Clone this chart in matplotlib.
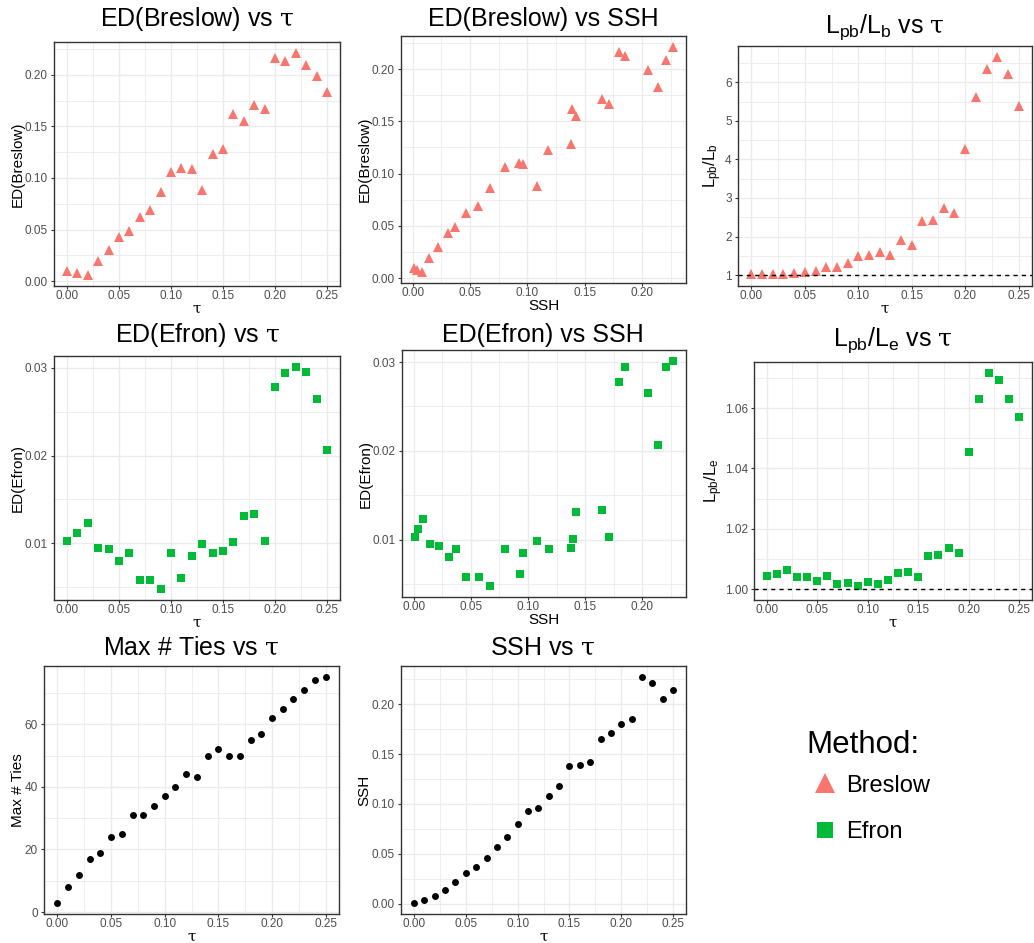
import numpy as np
import matplotlib
matplotlib.use("Agg")
import matplotlib.pyplot as plt
from matplotlib.ticker import MultipleLocator, FormatStrFormatter
from matplotlib.lines import Line2D

plt.rcParams['font.family'] = ['Liberation Sans', 'DejaVu Sans']
plt.rcParams['mathtext.fontset'] = 'custom'
plt.rcParams['mathtext.rm'] = 'Liberation Sans'
plt.rcParams['mathtext.it'] = 'DejaVu Serif'

# ---- data ----
tau = [0.00, 0.01, 0.02, 0.03, 0.04, 0.05, 0.06, 0.07, 0.08, 0.09, 0.10, 0.11, 0.12,
       0.13, 0.14, 0.15, 0.16, 0.17, 0.18, 0.19, 0.20, 0.21, 0.22, 0.23, 0.24, 0.25]

ed_breslow = [0.010, 0.008, 0.006, 0.019, 0.030, 0.043, 0.049, 0.062, 0.069, 0.086,
              0.106, 0.110, 0.109, 0.088, 0.123, 0.128, 0.162, 0.155, 0.171, 0.167,
              0.216, 0.213, 0.221, 0.209, 0.199, 0.183]

ed_efron = [0.0103, 0.0112, 0.0123, 0.0095, 0.0093, 0.0080, 0.0089, 0.0058, 0.0058, 0.0048,
            0.0089, 0.0061, 0.0085, 0.0099, 0.0089, 0.0091, 0.0101, 0.0131, 0.0133, 0.0103,
            0.0278, 0.0294, 0.0301, 0.0295, 0.0265, 0.0207]

ssh = [0.001, 0.004, 0.008, 0.014, 0.022, 0.031, 0.037, 0.046, 0.057, 0.067,
       0.080, 0.093, 0.096, 0.108, 0.118, 0.138, 0.139, 0.142, 0.165, 0.171,
       0.180, 0.185, 0.227, 0.221, 0.205, 0.214]

lpb_lb = [1.03, 1.03, 1.03, 1.04, 1.06, 1.09, 1.11, 1.20, 1.22, 1.32,
          1.49, 1.52, 1.59, 1.52, 1.91, 1.78, 2.41, 2.44, 2.75, 2.60,
          4.26, 5.63, 6.35, 6.66, 6.21, 5.38]

lpb_le = [1.0044, 1.0050, 1.0064, 1.0041, 1.0041, 1.0026, 1.0044, 1.0017, 1.0020, 1.0010,
          1.0023, 1.0017, 1.0031, 1.0053, 1.0056, 1.0040, 1.0109, 1.0112, 1.0136, 1.0119,
          1.0456, 1.0631, 1.0717, 1.0694, 1.0631, 1.0569]

max_ties = [3, 8, 12, 17, 19, 24, 25, 31, 31, 34, 37, 40, 44, 43, 50, 52, 50, 50,
            55, 57, 62, 65, 68, 71, 74, 75]

methods = ['Breslow', 'Efron']
method_colors = {'Breslow': '#F8766D', 'Efron': '#00BA38'}
method_markers = {'Breslow': '^', 'Efron': 's'}

W, H = 1034, 943
fig = plt.figure(figsize=(W / 100, H / 100), dpi=100)


def box(l, t, r, b):
    return [l / W, 1 - b / H, (r - l) / W, (b - t) / H]


def style_axes(ax, xmaj, ymaj, xfmt, yfmt):
    ax.xaxis.set_major_locator(MultipleLocator(xmaj))
    ax.xaxis.set_minor_locator(MultipleLocator(xmaj / 2))
    ax.yaxis.set_major_locator(MultipleLocator(ymaj))
    ax.yaxis.set_minor_locator(MultipleLocator(ymaj / 2))
    ax.xaxis.set_major_formatter(FormatStrFormatter(xfmt))
    ax.yaxis.set_major_formatter(FormatStrFormatter(yfmt))
    ax.grid(True, which='major', color='#EBEBEB', lw=1.0)
    ax.grid(True, which='minor', color='#EBEBEB', lw=0.6)
    ax.set_axisbelow(True)
    ax.tick_params(which='major', length=2.5, width=0.8, color='#333333',
                   labelsize=8.5, labelcolor='#4D4D4D')
    ax.tick_params(axis='x', which='major', pad=0.5)
    ax.tick_params(axis='y', which='major', pad=2)
    ax.tick_params(which='minor', length=0)
    for s in ax.spines.values():
        s.set_color('#333333')
        s.set_linewidth(1.0)


def padded(vals, extra=None):
    v = list(vals) + ([extra] if extra is not None else [])
    lo, hi = min(v), max(v)
    d = (hi - lo) * 0.05
    return lo - d, hi + d


def title(x, y, txt):
    fig.text(x / W, 1 - y / H, txt, ha='center', va='center', fontsize=18)


tau_lab = r'$\tau$'
XL = dict(fontsize=11, labelpad=0)
YL = dict(fontsize=11, labelpad=0)

# row 1
ax1 = fig.add_axes(box(54, 42, 340, 286))
ax1.plot(tau, ed_breslow, ls='none', marker='^', ms=7, mew=0, color=method_colors['Breslow'])
style_axes(ax1, 0.05, 0.05, '%.2f', '%.2f')
ax1.set_ylim(*padded(ed_breslow))
ax1.set_xlim(*padded(tau))
ax1.set_xlabel(tau_lab, **XL)
ax1.set_ylabel('ED(Breslow)', **YL)
title(197, 19, 'ED(Breslow) vs ' + tau_lab)

ax2 = fig.add_axes(box(401, 36, 686, 283))
ax2.plot(ssh, ed_breslow, ls='none', marker='^', ms=7, mew=0, color=method_colors['Breslow'])
style_axes(ax2, 0.05, 0.05, '%.2f', '%.2f')
ax2.set_ylim(*padded(ed_breslow))
ax2.set_xlim(*padded(ssh))
ax2.set_xlabel('SSH', **XL)
ax2.set_ylabel('ED(Breslow)', **YL)
title(543, 19, 'ED(Breslow) vs SSH')

ax3 = fig.add_axes(box(738, 46, 1032, 286))
ax3.plot(tau, lpb_lb, ls='none', marker='^', ms=7, mew=0, color=method_colors['Breslow'])
ax3.axhline(1, color='black', lw=1, ls=(0, (3, 3)))
style_axes(ax3, 0.05, 1, '%.2f', '%d')
ax3.set_ylim(*padded(lpb_lb, 1))
ax3.set_xlim(*padded(tau))
ax3.set_xlabel(tau_lab, **XL)
ax3.set_ylabel(r'$\mathrm{L_{pb}/L_b}$', fontsize=12, labelpad=1)
title(885, 27, r'$\mathrm{L_{pb}/L_b}$ vs ' + tau_lab)

# row 2
ax4 = fig.add_axes(box(54, 356, 340, 600))
ax4.plot(tau, ed_efron, ls='none', marker='s', ms=5.5, mew=0, color=method_colors['Efron'])
style_axes(ax4, 0.05, 0.01, '%.2f', '%.2f')
ax4.set_ylim(*padded(ed_efron))
ax4.set_xlim(*padded(tau))
ax4.set_xlabel(tau_lab, **XL)
ax4.set_ylabel('ED(Efron)', **YL)
title(197, 335, 'ED(Efron) vs ' + tau_lab)

ax5 = fig.add_axes(box(402, 350, 686, 597))
ax5.plot(ssh, ed_efron, ls='none', marker='s', ms=5.5, mew=0, color=method_colors['Efron'])
style_axes(ax5, 0.05, 0.01, '%.2f', '%.2f')
ax5.set_ylim(*padded(ed_efron))
ax5.set_xlim(*padded(ssh))
ax5.set_xlabel('SSH', **XL)
ax5.set_ylabel('ED(Efron)', **YL)
title(543, 335, 'ED(Efron) vs SSH')

ax6 = fig.add_axes(box(754, 362, 1032, 600))
ax6.plot(tau, lpb_le, ls='none', marker='s', ms=5.5, mew=0, color=method_colors['Efron'])
ax6.axhline(1, color='black', lw=1, ls=(0, (3, 3)))
style_axes(ax6, 0.05, 0.02, '%.2f', '%.2f')
ax6.set_ylim(*padded(lpb_le, 1))
ax6.set_xlim(*padded(tau))
ax6.set_xlabel(tau_lab, **XL)
ax6.set_ylabel(r'$\mathrm{L_{pb}/L_e}$', fontsize=12, labelpad=0)
title(893, 340, r'$\mathrm{L_{pb}/L_e}$ vs ' + tau_lab)

# row 3
ax7 = fig.add_axes(box(44, 666, 339, 914))
ax7.plot(tau, max_ties, ls='none', marker='o', ms=5, mew=0, color='black')
style_axes(ax7, 0.05, 20, '%.2f', '%d')
ax7.set_ylim(*padded(max_ties))
ax7.set_xlim(*padded(tau))
ax7.set_xlabel(tau_lab, **XL)
ax7.set_ylabel('Max # Ties', **YL)
title(191, 648, 'Max # Ties vs ' + tau_lab)

ax8 = fig.add_axes(box(401, 666, 686, 914))
ax8.plot(tau, ssh, ls='none', marker='o', ms=5, mew=0, color='black')
style_axes(ax8, 0.05, 0.05, '%.2f', '%.2f')
ax8.set_ylim(*padded(ssh))
ax8.set_xlim(*padded(tau))
ax8.set_xlabel(tau_lab, **XL)
ax8.set_ylabel('SSH', **YL)
title(543, 648, 'SSH vs ' + tau_lab)

# legend in the empty ninth cell
fig.text(806 / W, 1 - 753 / H, 'Method:', ha='left', va='baseline', fontsize=22.5)
handles = [Line2D([], [], ls='none', marker=method_markers[m], color=method_colors[m],
                  mew=0, ms=14 if m == 'Breslow' else 11) for m in methods]
fig.legend(handles, methods, loc='center left',
           bbox_to_anchor=(795 / W, 1 - 809 / H), frameon=False,
           fontsize=17, borderpad=0,
           handlelength=1.5, handletextpad=0.15, labelspacing=1.05)

fig.savefig('out.png', dpi=100)
